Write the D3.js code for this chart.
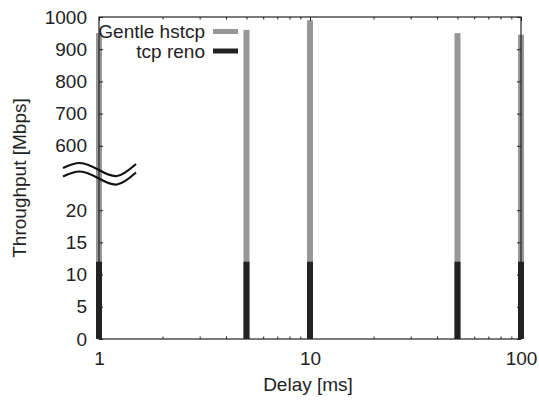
<!DOCTYPE html>
<html>
<head>
<meta charset="utf-8">
<script src="https://cdn.jsdelivr.net/npm/d3@7"></script>
<style>
  body { margin: 0; background: #fff; }
  text { font-family: "Liberation Sans", Arial, sans-serif; }
</style>
</head>
<body>
<div id="graf"></div>
<script>
// datos
var delays = [1, 5, 10, 50, 100];
var gentleHstcp = [950, 960, 990, 950, 945];
var tcpReno = [12, 12, 12, 12, 12];
var xTicks = [1, 10, 100];
var yTicksLow = [0, 5, 10, 15, 20];
var yTicksHigh = [600, 700, 800, 900, 1000];
var series = ["Gentle hstcp", "tcp reno"];
var colores = ["#97979a", "#222222"];

var ancho_total = 539, alto_total = 405;
var margins = { top: 17, left: 99, right: 18, bottom: 66 };
var ancho = ancho_total - margins.left - margins.right;
var alto = alto_total - margins.top - margins.bottom;
var fs = 19;

var svg = d3.select("#graf").append("svg")
  .attr("width", ancho_total)
  .attr("height", alto_total);

var g = svg.append("g")
  .attr("transform", `translate(${margins.left}, ${margins.top})`);

// escalas: eje y partido (0-25 abajo, 500-1000 arriba)
var x = d3.scaleLog().domain([1, 100]).range([0, ancho]);
var paso = alto / 10;
var y = d3.scaleLinear()
  .domain([0, 25, 500, 1000])
  .range([alto, alto - 5 * paso, alto - 5 * paso, 0]);

var yTicks = yTicksLow.concat(yTicksHigh);
var minorX = [2, 3, 4, 5, 6, 7, 8, 9, 20, 30, 40, 50, 60, 70, 80, 90];

// barras
var barW = 6;
g.selectAll(".gentle").data(delays).enter().append("rect")
  .attr("x", (d) => x(d) - barW / 2)
  .attr("width", barW)
  .attr("y", (d, i) => y(gentleHstcp[i]))
  .attr("height", (d, i) => alto - y(gentleHstcp[i]))
  .attr("fill", colores[0]);

g.selectAll(".reno").data(delays).enter().append("rect")
  .attr("x", (d) => x(d) - barW / 2)
  .attr("width", barW)
  .attr("y", (d, i) => y(tcpReno[i]))
  .attr("height", (d, i) => alto - y(tcpReno[i]))
  .attr("fill", colores[1]);

// ejes
function estilo(sel) {
  sel.select(".domain").remove();
  sel.selectAll("line").attr("stroke", "#222");
  sel.selectAll("text").attr("font-size", fs).attr("fill", "#222");
}
var tickFmt = d3.format("d");

g.append("g").attr("transform", `translate(0, ${alto})`)
  .call(d3.axisBottom(x).tickValues(xTicks).tickFormat(tickFmt).tickSize(-4).tickPadding(13))
  .call(estilo);
g.append("g").attr("transform", `translate(0, ${alto})`)
  .call(d3.axisBottom(x).tickValues(minorX).tickFormat("").tickSize(-2.5))
  .call(estilo);
g.append("g")
  .call(d3.axisTop(x).tickValues(xTicks).tickFormat("").tickSize(-4))
  .call(estilo);
g.append("g")
  .call(d3.axisTop(x).tickValues(minorX).tickFormat("").tickSize(-2.5))
  .call(estilo);
g.append("g")
  .call(d3.axisLeft(y).tickValues(yTicks).tickFormat(tickFmt).tickSize(-4).tickPadding(12))
  .call(estilo);
g.append("g").attr("transform", `translate(${ancho}, 0)`)
  .call(d3.axisRight(y).tickValues(yTicks).tickFormat("").tickSize(-4))
  .call(estilo);

// marco
g.append("rect")
  .attr("width", ancho).attr("height", alto)
  .attr("fill", "none").attr("stroke", "#222").attr("stroke-width", 1.2);

// símbolo de corte
var yBreak = y(25);
var ondaDx = [-36, -19, -1, 18, 37];
var ondaDy = [-10, -15, -8.5, -2, -14];
var onda = d3.line().curve(d3.curveNatural)
  .x((d, i) => ondaDx[i])
  .y((d) => d);
[0, 8.5].forEach(function (off) {
  g.append("path")
    .attr("transform", `translate(0, ${yBreak + off})`)
    .attr("d", onda(ondaDy))
    .attr("fill", "none")
    .attr("stroke", "#111")
    .attr("stroke-width", 2.2);
});

// leyenda
var leyenda = svg.append("g");
series.forEach(function (s, i) {
  var ly = 31.5 + i * 19.5;
  leyenda.append("text")
    .attr("x", 205).attr("y", ly).attr("dy", "0.35em")
    .attr("text-anchor", "end").attr("font-size", fs).attr("fill", "#222")
    .text(s);
  leyenda.append("line")
    .attr("x1", 213).attr("x2", 238).attr("y1", ly).attr("y2", ly)
    .attr("stroke", colores[i]).attr("stroke-width", 5);
});

// etiquetas
svg.append("text")
  .attr("transform", "translate(26, 178) rotate(-90)")
  .attr("text-anchor", "middle").attr("font-size", fs).attr("fill", "#222")
  .text("Throughput [Mbps]");
svg.append("text")
  .attr("x", 308).attr("y", 391)
  .attr("text-anchor", "middle").attr("font-size", fs).attr("fill", "#222")
  .text("Delay [ms]");
</script>
</body>
</html>
